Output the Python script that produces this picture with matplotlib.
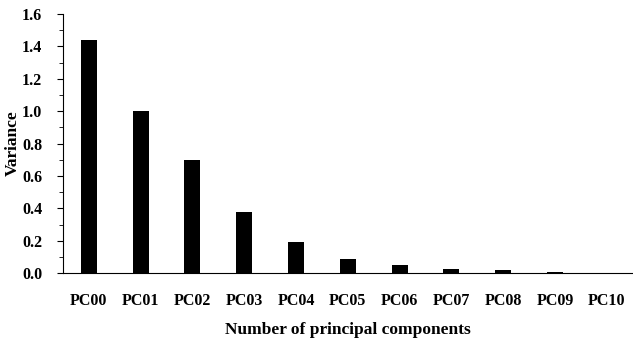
import numpy as np
import matplotlib
matplotlib.use('Agg')
from matplotlib import pyplot as plt
from matplotlib.ticker import MultipleLocator, FormatStrFormatter

components = ['PC00', 'PC01', 'PC02', 'PC03', 'PC04', 'PC05',
              'PC06', 'PC07', 'PC08', 'PC09', 'PC10']
variance = [1.44, 1.0, 0.70, 0.38, 0.19, 0.085, 0.05, 0.025, 0.02, 0.007, 0.001]

plt.rcParams['font.family'] = 'Liberation Serif'
plt.rcParams['font.weight'] = 'bold'

fig = plt.figure(figsize=(6.33, 3.44), dpi=100)
ax = fig.add_axes([0.0995, 0.206, 0.9, 0.753])

x = np.arange(len(components))
ax.bar(x, variance, width=0.31, color='black')

ax.set_xlim(-0.5, len(components) - 0.5)
ax.set_ylim(0, 1.6)
ax.yaxis.set_major_locator(MultipleLocator(0.2))
ax.yaxis.set_minor_locator(MultipleLocator(0.1))
ax.yaxis.set_major_formatter(FormatStrFormatter('%.1f'))
ax.set_xticks(x)
ax.set_xticklabels(components)

ax.spines['top'].set_visible(False)
ax.spines['right'].set_visible(False)
ax.tick_params(axis='x', length=0, pad=14, labelsize=11.5)
ax.tick_params(axis='y', which='major', length=4, direction='out', labelsize=11.5, pad=11)
ax.tick_params(axis='y', which='minor', length=3, direction='out')

ax.set_ylabel('Variance', fontsize=12.5, fontweight='bold')
ax.yaxis.set_label_coords(-0.074, 0.5)
ax.set_xlabel('Number of principal components', fontsize=12.5, fontweight='bold', labelpad=10)

fig.savefig('out.png', dpi=100)
